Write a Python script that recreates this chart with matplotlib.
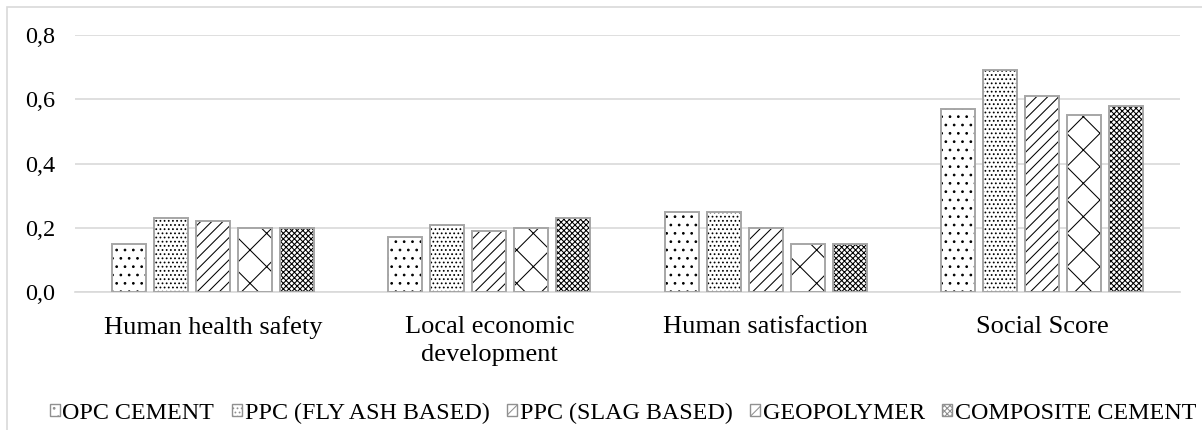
import numpy as np
import matplotlib.pyplot as plt
from matplotlib.patches import Rectangle
from matplotlib.ticker import FuncFormatter

# chart data
categories = ['Human health safety', 'Local economic\ndevelopment', 'Human satisfaction', 'Social Score']
series = ['OPC CEMENT', 'PPC (FLY ASH BASED)', 'PPC (SLAG BASED)', 'GEOPOLYMER', 'COMPOSITE CEMENT']
opc = [0.15, 0.17, 0.25, 0.57]
ppc_fly = [0.23, 0.21, 0.25, 0.69]
ppc_slag = [0.22, 0.19, 0.20, 0.61]
geopolymer = [0.20, 0.20, 0.15, 0.55]
composite = [0.20, 0.23, 0.15, 0.58]
yticks = [0.0, 0.2, 0.4, 0.6, 0.8]

values = [opc, ppc_fly, ppc_slag, geopolymer, composite]
hatches = ['..', '....', '///', 'x', 'xxxxxx']

plt.rcParams['font.family'] = ['Liberation Serif', 'DejaVu Serif']
plt.rcParams['hatch.linewidth'] = 0.75

fig = plt.figure(figsize=(12.02, 4.30), dpi=100)
ax = fig.add_axes([75 / 1202, 1 - 292 / 430, 1105 / 1202, 257 / 430])

# outer border of the chart
fig.patches.append(Rectangle((7 / 1202, -0.1), 1.2, 1 - 7 / 430 + 0.1,
                             transform=fig.transFigure, fill=False,
                             edgecolor='#d9d9d9', linewidth=1.2))

x = np.arange(len(categories))
width = 0.123
step = 0.152
handles = []
for i, (name, vals, h) in enumerate(zip(series, values, hatches)):
    pos = x + (i - 2) * step
    ax.bar(pos, vals, width, color='white', edgecolor='black', linewidth=0, hatch=h, zorder=3)
    ax.bar(pos, vals, width, fill=False, edgecolor='#a6a6a6', linewidth=1.4, zorder=4)
    handles.append(Rectangle((0, 0), 1, 1, facecolor='white', edgecolor='#909090',
                             linewidth=1.0, hatch=h, label=name))

ax.set_xlim(-0.5, 3.5)
ax.set_ylim(0, 0.8)
ax.set_yticks(yticks)
ax.yaxis.set_major_formatter(FuncFormatter(lambda v, p: f'{v:.1f}'.replace('.', ',')))
ax.set_xticks(x)
ax.set_xticklabels(categories, fontsize=19, va='top', linespacing=1.35)
ax.tick_params(axis='y', length=0, labelsize=17.5, pad=14)
ax.tick_params(axis='x', length=0, pad=17)
ax.grid(axis='y', color='#d9d9d9', linewidth=1.2, zorder=0)
for s in ['top', 'right', 'left']:
    ax.spines[s].set_visible(False)
ax.spines['bottom'].set_color('#d9d9d9')
ax.spines['bottom'].set_linewidth(1.2)

fig.legend(handles=handles, loc='center', bbox_to_anchor=(623 / 1202, 1 - 413 / 430),
           ncol=5, frameon=False, fontsize=17.3, handlelength=0.42, handleheight=0.42,
           handletextpad=0.12, columnspacing=0.72, borderpad=0, borderaxespad=0)

fig.savefig('out.png', dpi=100)
